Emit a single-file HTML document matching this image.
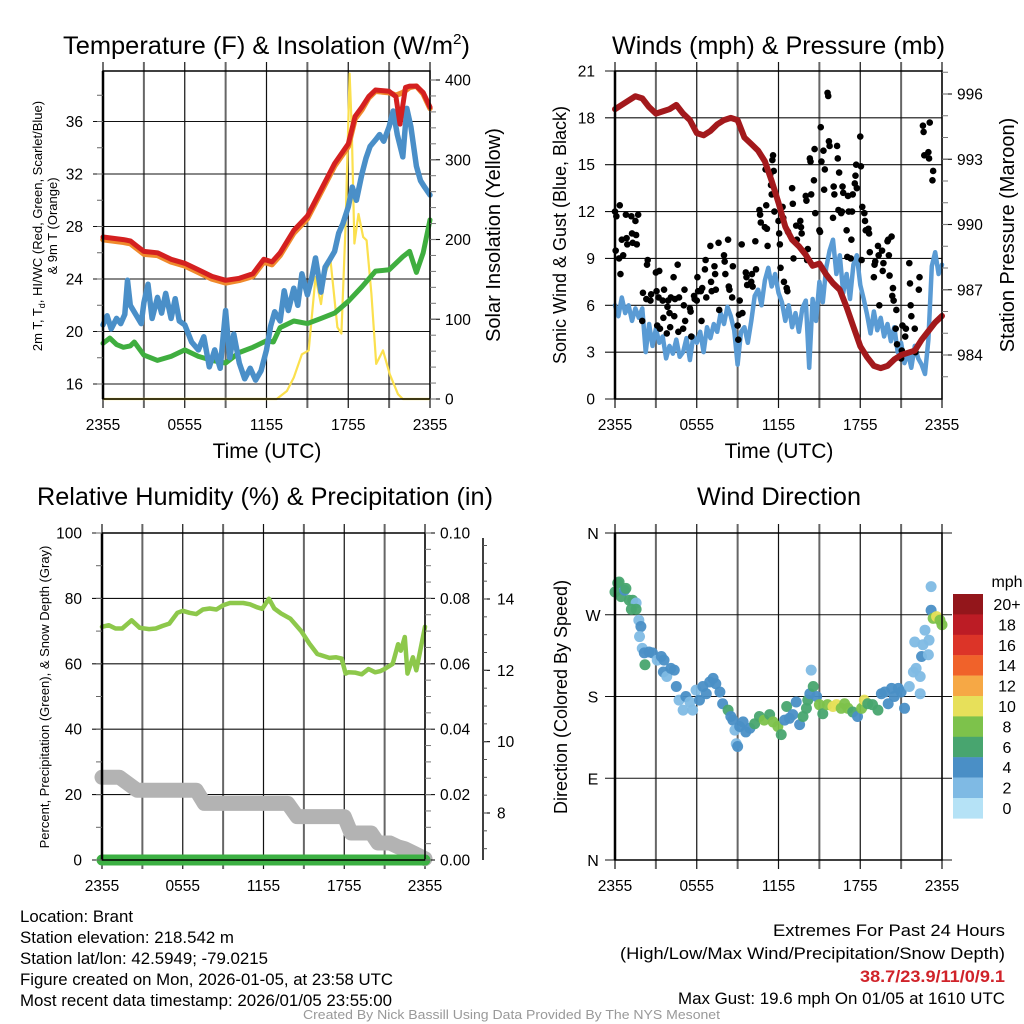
<!DOCTYPE html>
<html><head><meta charset="utf-8"><style>
html,body{margin:0;padding:0;background:#fff;}
svg{display:block;font-family:"Liberation Sans",sans-serif;}
</style></head><body>
<svg id="fig" width="1024" height="1024" viewBox="0 0 1024 1024" xmlns="http://www.w3.org/2000/svg">
<rect x="0" y="0" width="1024" height="1024" fill="#fff"/>
<g id="grids"></g>
<g id="series"></g>
<g id="axes"></g>

<text x="63" y="54" font-size="25" textLength="407" lengthAdjust="spacingAndGlyphs">Temperature (F) &amp; Insolation (W/m<tspan font-size="15" dy="-10">2</tspan><tspan dy="10">)</tspan></text>
<text x="612" y="54" font-size="25" textLength="333" lengthAdjust="spacingAndGlyphs">Winds (mph) &amp; Pressure (mb)</text>
<text x="37" y="505" font-size="25" textLength="456" lengthAdjust="spacingAndGlyphs">Relative Humidity (%) &amp; Precipitation (in)</text>
<text x="697" y="505" font-size="25" textLength="164" lengthAdjust="spacingAndGlyphs">Wind Direction</text>

<text x="267" y="458" font-size="21" text-anchor="middle">Time (UTC)</text>
<text x="779" y="458" font-size="21" text-anchor="middle">Time (UTC)</text>

<text transform="translate(42,226) rotate(-90)" font-size="13" text-anchor="middle">2m T, T<tspan font-size="9" dy="3">d</tspan><tspan dy="-3">, HI/WC (Red, Green, Scarlet/Blue)</tspan></text>
<text transform="translate(57,226) rotate(-90)" font-size="13" text-anchor="middle">&amp; 9m T (Orange)</text>
<text transform="translate(500,235) rotate(-90)" font-size="20" text-anchor="middle">Solar Insolation (Yellow)</text>
<text transform="translate(566,235) rotate(-90)" font-size="18" text-anchor="middle">Sonic Wind &amp; Gust (Blue, Black)</text>
<text transform="translate(1014,235) rotate(-90)" font-size="20" text-anchor="middle">Station Pressure (Maroon)</text>
<text transform="translate(49,697) rotate(-90)" font-size="13" text-anchor="middle">Percent, Precipitation (Green), &amp; Snow Depth (Gray)</text>
<text transform="translate(567,697) rotate(-90)" font-size="18" text-anchor="middle">Direction (Colored By Speed)</text>

<text x="1007" y="587" font-size="16" text-anchor="middle">mph</text>
<g id="legend"></g>

<g font-size="16.5">
<text x="20" y="922" textLength="113" lengthAdjust="spacingAndGlyphs">Location: Brant</text>
<text x="20" y="943" textLength="214" lengthAdjust="spacingAndGlyphs">Station elevation: 218.542 m</text>
<text x="20" y="964" textLength="248" lengthAdjust="spacingAndGlyphs">Station lat/lon: 42.5949; -79.0215</text>
<text x="20" y="985" textLength="373" lengthAdjust="spacingAndGlyphs">Figure created on Mon, 2026-01-05, at 23:58 UTC</text>
<text x="20" y="1006" textLength="372" lengthAdjust="spacingAndGlyphs">Most recent data timestamp: 2026/01/05 23:55:00</text>
</g>
<g font-size="16.5">
<text x="773" y="936" textLength="232" lengthAdjust="spacingAndGlyphs">Extremes For Past 24 Hours</text>
<text x="620" y="959" textLength="385" lengthAdjust="spacingAndGlyphs">(High/Low/Max Wind/Precipitation/Snow Depth)</text>
<text x="860" y="982" textLength="145" lengthAdjust="spacingAndGlyphs" fill="#d0232a" font-weight="bold">38.7/23.9/11/0/9.1</text>
<text x="678" y="1004" textLength="327" lengthAdjust="spacingAndGlyphs">Max Gust: 19.6 mph On 01/05 at 1610 UTC</text>
</g>
<text x="303" y="1019" font-size="13" textLength="417" lengthAdjust="spacingAndGlyphs" fill="#999">Created By Nick Bassill Using Data Provided By The NYS Mesonet</text>
</svg>
<script>
// ---------- DATA ----------
const xTickLabels = ["2355","0555","1155","1755","2355"];
const tempTicks = [16,20,24,28,32,36];
const insolTicks = [0,100,200,300,400];
const windTicks = [0,3,6,9,12,15,18,21];
const presTicks = [984,987,990,993,996];
const rhTicks = [0,20,40,60,80,100];
const precipTicks = ["0.00","0.02","0.04","0.06","0.08","0.10"];
const snowTicks = [8,10,12,14];
const dirLabels = ["N","E","S","W","N"];

const redT = [0,1.5,2,2.5,3,4,5,6,7,8,9,10,11,11.8,12.4,13,14,15,16,17,18,18.5,19,19.5,20,21,21.5,21.8,22.2,22.5,23,23.5,24];
const redV = [27.2,27.0,26.9,26.5,26.1,26.0,25.5,25.2,24.7,24.2,23.9,24.05,24.4,25.5,25.3,26.0,27.7,28.8,30.8,32.8,34.3,36.4,37.1,37.9,38.4,38.3,37.9,35.8,38.6,38.7,38.7,38.2,37.1];
const orangeT = [0,1.5,2,2.5,3,4,5,6,7,8,9,10,11,11.8,12.4,13,14,15,16,17,18,18.5,19,19.5,20,21,21.5,22,22.5,23,23.5,24];
const orangeV = [27.0,26.8,26.7,26.3,25.9,25.8,25.3,25.0,24.5,24.0,23.7,23.9,24.2,25.3,25.1,25.8,27.5,28.6,30.6,32.6,34.1,36.2,36.9,37.8,38.3,38.2,38.0,38.2,38.6,38.7,38.1,37.0];
const blueT = [0,0.3,0.6,1,1.3,1.6,1.8,2,2.4,2.8,3,3.3,3.6,4,4.3,4.6,5,5.3,5.6,6,6.5,7,7.4,7.8,8.2,8.6,9,9.3,9.6,10,10.4,10.8,11.2,11.6,12,12.3,12.6,13,13.3,13.6,14,14.3,14.6,15,15.3,15.6,16,16.3,16.6,17,17.3,17.6,18,18.3,18.6,19,19.3,19.6,20,20.3,20.6,21,21.3,21.6,22,22.3,22.6,23,23.3,23.6,24];
const blueV = [20.5,21.2,20.2,21.0,20.6,21.3,23.9,22.0,21.3,20.6,22.2,23.6,21.0,22.6,21.4,22.9,21.0,22.5,20.8,20.5,19.2,18.6,19.6,17.3,18.6,17.2,21.6,18.0,19.8,17.6,16.4,17.2,16.3,17.0,18.6,20.4,21.5,20.8,23.1,21.6,23.3,22.0,24.4,22.8,24.0,25.6,23.0,24.9,25.4,26.1,27.5,28.2,29.5,31.0,30.0,32.0,33.2,34.1,34.6,35.0,34.5,35.6,36.8,35.0,33.3,37.0,35.6,32.6,31.5,31.0,30.4];
const greenT = [0,0.5,1,1.5,2,2.3,3,4,5,6,7,8,9,10,11,12,12.5,13,14,15,16,17,18,19,20,21,22,22.5,23,23.5,24];
const greenV = [19.1,19.5,19.0,18.8,18.9,19.2,18.2,17.8,18.1,18.6,18.1,17.8,17.6,18.4,18.8,19.3,19.2,20.3,20.8,20.6,21.0,21.4,22.3,23.4,24.6,24.7,25.7,26.1,24.5,26.0,28.5];
const insolT = [0,12.75,13.5,14,14.6,15.1,15.6,16,16.3,16.7,17.2,17.5,17.8,18.1,18.25,18.45,18.75,19.1,19.35,19.7,20.05,20.55,21.05,21.65,22,24];
const insolV = [0,0,10,27,56,61,153,119,157,174,90,82,215,408,341,195,232,203,199,132,44,61,31,6,0,0];

const presT = [0,0.5,1,1.5,2,2.5,3,3.5,4,4.5,5,5.5,6,6.5,7,7.5,8,8.5,9,9.5,10,10.5,11,11.5,12,12.5,13,13.5,14,14.5,15,15.5,16,16.5,17,17.5,18,18.5,19,19.5,20,20.5,21,21.5,22,22.5,23,23.5,24];
const presV = [995.3,995.5,995.7,995.9,995.8,995.4,995.1,995.2,995.3,995.5,995.1,994.8,994.2,994.1,994.3,994.6,994.8,994.9,994.8,994.0,993.7,993.4,992.9,992.0,991.0,989.9,989.3,989.0,988.6,988.1,988.2,987.7,987.3,987.0,986.2,985.3,984.4,983.9,983.5,983.4,983.5,983.8,984.0,984.1,984.2,984.7,985.1,985.5,985.8];
const windT = [0,0.25,0.5,0.75,1,1.25,1.5,1.75,2,2.25,2.5,2.75,3,3.25,3.5,3.75,4,4.25,4.5,4.75,5,5.25,5.5,5.75,6,6.25,6.5,6.75,7,7.25,7.5,7.75,8,8.25,8.5,8.75,9,9.25,9.5,9.75,10,10.25,10.5,10.75,11,11.25,11.5,11.75,12,12.25,12.5,12.75,13,13.25,13.5,13.75,14,14.25,14.5,14.75,15,15.25,15.5,15.75,16,16.25,16.5,16.75,17,17.25,17.5,17.75,18,18.25,18.5,18.75,19,19.25,19.5,19.75,20,20.25,20.5,20.75,21,21.25,21.5,21.75,22,22.25,22.5,22.75,23,23.25,23.5,23.75,24];
const windV = [6.0,5.3,6.5,5.5,6.0,5.0,5.8,5.2,5.8,3.0,4.8,3.4,4.5,3.6,4.0,2.6,3.4,2.9,3.8,2.7,3.0,3.9,2.5,4.0,3.6,4.3,3.0,4.6,3.9,4.8,4.3,5.5,4.8,5.9,5.3,4.4,2.2,4.3,4.6,3.6,5.0,6.6,7.0,6.0,7.6,8.4,7.2,8.0,6.8,6.2,5.0,6.0,4.6,5.5,4.3,5.8,6.3,2.0,6.4,5.0,7.5,6.2,8.4,9.5,10.2,8.0,9.2,6.8,8.0,6.4,8.6,9.2,7.3,6.4,5.4,4.2,5.6,4.4,5.2,4.0,4.8,3.7,4.6,3.0,3.6,2.3,3.0,2.0,3.4,2.6,2.2,1.6,3.8,8.5,9.4,8.0,8.6];
const gustT = [0,0.05,0.1,0.3,0.35,0.4,0.5,0.6,0.8,0.85,0.9,1.2,1.25,1.3,1.5,1.55,1.6,1.7,2,2.05,2.3,2.35,2.4,2.6,2.65,3,3.05,3.1,3.2,3.25,3.3,3.5,3.55,3.6,3.8,3.85,3.9,4,4.05,4.1,4.3,4.35,4.4,4.6,4.65,4.7,5,5.05,5.1,5.15,5.5,5.55,5.6,5.8,5.85,6,6.05,6.1,6.3,6.35,6.4,6.6,6.65,6.7,7,7.05,7.1,7.3,7.35,7.4,7.6,7.65,8,8.05,8.1,8.3,8.35,8.4,8.6,8.65,9,9.05,9.1,9.15,9.3,9.35,9.6,9.65,9.7,10,10.05,10.1,10.3,10.35,10.6,10.65,10.7,11,11.05,11.1,11.15,11.2,11.4,11.45,11.5,11.55,11.6,11.65,11.7,12,12.05,12.1,12.15,12.3,12.35,12.4,12.6,12.65,12.7,13,13.05,13.1,13.3,13.35,13.6,13.65,13.7,14,14.05,14.1,14.15,14.3,14.35,14.4,14.6,14.65,14.7,15,15.05,15.1,15.15,15.3,15.35,15.4,15.6,15.65,15.7,15.75,16,16.05,16.1,16.3,16.35,16.4,16.45,16.6,16.65,16.7,16.75,17,17.05,17.1,17.15,17.3,17.35,17.4,17.45,17.6,17.65,17.7,17.75,18,18.05,18.1,18.15,18.3,18.35,18.4,18.6,18.65,18.7,19,19.05,19.1,19.3,19.35,19.4,19.6,19.65,19.7,20,20.05,20.1,20.15,20.3,20.35,20.4,20.45,20.6,20.65,20.7,21,21.05,21.1,21.3,21.35,21.6,21.65,21.7,21.75,22,22.05,22.3,22.35,22.6,22.65,22.7,23,23.05,23.1,23.3,23.35];
const gustV = [12,9.5,11.7,9.0,12.4,8.0,10.2,9.2,11.8,10.3,9.9,11.7,10.6,10.0,11.4,10.5,9.9,11.8,5.0,6.8,6.4,8.6,8.9,6.3,6.7,8.1,6.9,4.7,6.5,8.2,4.5,6.3,5.2,7.0,4.2,5.9,6.3,5.5,4.6,6.5,7.8,5.3,6.4,8.6,4.3,6.5,4.5,6.0,7.0,5.0,5.8,5.6,4.0,6.6,6.4,6.3,7.8,6.9,6.9,5.0,7.1,8.3,8.9,6.5,9.8,7.5,6.9,8.5,8.0,7.0,10.0,5.7,9.2,8.8,8.0,10.2,7.2,7.0,6.5,8.5,4.7,3.8,5.4,6.3,9.9,5.5,8.1,7.8,7.3,7.5,8.0,7.2,10.1,8.3,12.1,11.8,11.3,11.0,14.7,12.4,10.9,9.8,14.4,13.7,13.1,15.3,15.6,14.6,12.0,11.4,10.6,9.9,8.4,12.3,11.6,7.5,7.1,6.9,10.7,13.5,12.5,9.0,11.1,10.2,11.4,11.0,10.6,13.0,12.7,8.9,9.6,15.4,15.2,13.1,14.0,16.0,11.9,10.8,10.7,17.4,15.2,15.9,13.4,14.7,19.6,19.4,16.5,16.2,11.6,13.6,13.1,16.2,15.4,12.1,14.5,11.9,12.0,13.6,13.2,10.8,9.1,13.0,12.0,9.0,10.2,12.0,13.1,13.8,14.3,15.0,13.5,16.8,14.9,8.9,12.3,11.9,11.4,10.8,10.9,10.6,9.4,7.8,8.6,8.8,9.8,9.2,6.0,9.5,8.2,8.7,10.1,10.2,9.2,7.9,10.4,6.6,7.1,6.3,4.5,5.7,3.5,2.6,3.1,4.7,4.0,4.5,8.7,7.4,6.0,5.3,4.5,3.0,7.0,7.8,17.5,17.1,15.6,15.8,15.4,17.7,14.0,14.6];

const rhT = [0,0.5,1,1.5,2.2,2.8,3.5,4,4.5,5,5.6,6,6.5,7,7.5,8,8.5,9,9.5,10,10.5,11,11.5,11.9,12.4,12.8,13.3,14,14.8,15.4,16,16.9,17.4,17.8,18.1,18.3,18.8,19.3,19.8,20.3,20.7,21,21.6,22,22.2,22.5,22.7,23.1,23.35,24];
const rhV = [71.3,71.8,70.8,70.8,73.3,71.0,70.6,70.8,71.6,72.3,75.6,76.2,75.6,75.2,76.6,76.9,76.6,77.9,78.6,78.6,78.6,78.2,77.3,76.8,79.9,76.9,75.4,73.8,70.0,66.2,63.0,61.8,62.0,61.6,57.0,57.4,57.3,56.8,58.4,57.4,57.8,58.4,60.0,66.0,64.0,68.2,57.0,62.0,58.0,71.3];
const snowT = [0,1.3,2.6,7.0,7.6,13.8,14.5,18.0,18.5,20.0,20.5,21.4,22.0,22.5,23.3,24];
const snowV = [9.0,9.0,8.64,8.64,8.27,8.27,7.9,7.9,7.44,7.44,7.16,7.16,7.05,7.0,6.85,6.72];
const precipT = [0,24];
const precipV = [0,0];

const dirT = [0,0.2,0.3,0.45,0.7,0.8,1.05,1.3,1.55,1.2,1.55,1.75,1.9,1.8,2.0,2.15,2.2,2.5,2.75,3.1,3.4,3.6,3.55,3.8,4.1,4.35,4.5,4.7,5,5.2,5.5,5.7,5.95,6.2,6.45,6.7,6.95,7.2,7.4,7.7,7.9,8.3,8.5,8.65,8.8,8.9,9,9.15,9.4,9.6,9.9,10.25,10.6,10.95,11.35,11.6,11.95,12.2,12.45,12.6,12.8,13.05,13.3,13.55,13.8,14.05,14.15,14.3,14.4,14.55,14.8,15,15.25,15.6,16,16.25,16.6,16.85,17.1,17.45,17.8,18.1,18.3,18.55,18.9,19.3,19.55,19.8,20.05,20.3,20.5,20.8,21,21.25,21.6,21.9,22.1,22.4,22.5,22.4,22.0,22.6,22.75,23.0,23.05,23.2,23.2,23.35,23.6,23.85,24];
const dirV = [295,305,306,290,297,299,286,286,283,276,276,264,257,246,233,228,215,229,228,220,224,220,207,202,211,209,191,176,165,180,174,165,187,176,191,183,196,200,194,185,172,165,158,154,143,128,125,147,152,141,145,150,158,154,160,152,147,138,154,169,156,160,174,149,158,167,176,183,209,191,180,171,161,171,169,171,167,172,167,163,158,167,176,172,171,165,183,185,172,189,180,189,185,167,191,207,211,183,224,202,240,237,253,226,242,301,275,266,268,264,259];
const dirS = [6,6,6,6,4,6,6,6,2,6,6,2,4,2,2,4,6,4,4,2,4,4,4,2,4,4,4,2,2,4,2,2,2,4,4,4,4,4,4,4,4,6,4,4,2,2,4,4,4,4,4,6,6,8,6,8,8,6,4,6,4,4,4,4,6,6,6,4,2,6,4,8,6,8,10,10,8,8,8,6,4,8,10,6,6,6,4,4,4,4,4,4,4,4,2,2,2,2,4,2,2,2,2,2,2,2,4,8,10,8,8];

const legendLabels = ["20+","18","16","14","12","10","8","6","4","2","0"];
const legendColors = ["#93161b","#bc1c25","#dc3428","#f0622a","#f6a845","#e7e05a","#7dc24b","#48a56f","#4a8fc6","#7fbae4","#b5e2f6"];

// ---------- SCALES ----------
const NS = "http://www.w3.org/2000/svg";
const gGrid = document.getElementById('grids');
const gSer = document.getElementById('series');
const gAx = document.getElementById('axes');
function lin(d0,d1,r0,r1){ return v => r0 + (v-d0)*(r1-r0)/(d1-d0); }
function mk(tag, attrs, parent){ const e=document.createElementNS(NS,tag); for(const k in attrs) e.setAttribute(k,attrs[k]); parent.appendChild(e); return e; }

const P = {
  tl:{x0:103,x1:430,y0:71,y1:399},
  tr:{x0:615,x1:942,y0:71,y1:399},
  bl:{x0:102,x1:425,y0:533,y1:860},
  br:{x0:615,x1:942,y0:533,y1:860}
};
const xTL = lin(0,24,P.tl.x0,P.tl.x1), xTR = lin(0,24,P.tr.x0,P.tr.x1);
const xBL = lin(0,24,P.bl.x0,P.bl.x1), xBR = lin(0,24,P.br.x0,P.br.x1);
const yTemp = lin(16,36,384,121.5);
const yIns = lin(0,400,399,80);
const yWind = lin(0,21,399,71);
const yPres = lin(984,996,355,94);
const yRH = lin(0,100,860,533);
const ySnow = lin(8,14,813,599);
const yDir = lin(0,360,860,533);

// ---------- FRAMES, GRIDS, TICKS ----------
function frame(p, name, xs){
  for(let h=0;h<=24;h+=3){
    const x = xs(h);
    const l = mk('line',{x1:x,x2:x,y1:p.y0-9,y2:p.y1+9,stroke:(h%6===3)?'#666':'#111','stroke-width':(h%6===3)?2:1.2},gGrid);
    
    
  }
  const r = mk('rect',{x:p.x0,y:p.y0,width:p.x1-p.x0,height:p.y1-p.y0,fill:'none',stroke:'#000','stroke-width':1.5},gAx);
  
  
  const lx = mk('line',{x1:p.x0,x2:p.x0,y1:p.y0,y2:p.y1,stroke:'#000','stroke-width':2.5},gAx);
  
  
  xTickLabels.forEach((lab,i)=>{
    const t = mk('text',{x:xs(i*6),y:p.y1+31,'font-size':15.5,'text-anchor':'middle'},gAx);
    t.textContent = lab;
    
    
  });
}
function hgrid(p, name, vals, ys, labels, side, minorStep, minorFrom, minorTo){
  vals.forEach((v,i)=>{
    const y = ys(v);
    const l = mk('line',{x1:p.x0-10,x2:p.x1+(side==='both'?10:0),y1:y,y2:y,stroke:'#111','stroke-width':1.1},gGrid);
    
    
    const t = mk('text',{x:p.x0-20,y:y+5.5,'font-size':15.5,'text-anchor':'end'},gAx);
    t.textContent = labels ? labels[i] : v;
    
    
  });
  if(minorStep){
    for(let v=minorFrom; v<=minorTo+1e-9; v+=minorStep){
      const y = ys(v);
      const m = mk('line',{x1:p.x0-6,x2:p.x0,y1:y,y2:y,stroke:'#666','stroke-width':1},gAx);
      
      
    }
  }
}
function rightAxis(p, name, vals, ys, labels, minorStep, minorFrom, minorTo, xoff){
  const ax = p.x1 + (xoff||0);
  vals.forEach((v,i)=>{
    const y = ys(v);
    const l = mk('line',{x1:ax,x2:ax+10,y1:y,y2:y,stroke:'#111','stroke-width':1.1},gAx);
    
    
    const t = mk('text',{x:ax+15,y:y+5.5,'font-size':15.5},gAx);
    t.textContent = labels ? labels[i] : v;
    
    
  });
  if(minorStep){
    for(let v=minorFrom; v<=minorTo+1e-9; v+=minorStep){
      const y = ys(v);
      const m = mk('line',{x1:ax,x2:ax+6,y1:y,y2:y,stroke:'#777','stroke-width':1},gAx);
      
      
    }
  }
}

frame(P.tl,'temperature',xTL);
frame(P.tr,'winds',xTR);
frame(P.bl,'humidity',xBL);
frame(P.br,'direction',xBR);

hgrid(P.tl,'temperature',tempTicks,yTemp,null,'left',2,16,38);
rightAxis(P.tl,'insolation',insolTicks,yIns,null,20,0,400);
hgrid(P.tr,'winds',windTicks,yWind,null,'left',0);
rightAxis(P.tr,'pressure',presTicks,yPres,null,1,983,997);
hgrid(P.bl,'humidity',rhTicks,yRH,null,'left',10,0,100);
rightAxis(P.bl,'precip',rhTicks,yRH,precipTicks,5,0,100);
// third snow axis
(function(){
  const ax = 483;
  const l = mk('line',{x1:ax,x2:ax,y1:538,y2:860,stroke:'#000','stroke-width':1.5},gAx);
  
  
  snowTicks.forEach(v=>{
    const y = ySnow(v);
    const t1 = mk('line',{x1:ax,x2:ax+7,y1:y,y2:y,stroke:'#000','stroke-width':1.1},gAx);
    
    
    const t = mk('text',{x:ax+14,y:y+5.5,'font-size':15.5},gAx);
    t.textContent = v;
    
    
  });
  for(let v=7; v<=15.5; v+=0.5){
    const y = ySnow(v);
    if(y<538||y>860) continue;
    const m = mk('line',{x1:ax,x2:ax+4,y1:y,y2:y,stroke:'#555','stroke-width':1},gAx);
    
    
  }
})();
// direction grid
[0,90,180,270,360].forEach((v,i)=>{
  const y = yDir(v);
  const l = mk('line',{x1:P.br.x0-10,x2:P.br.x1+10,y1:y,y2:y,stroke:'#111','stroke-width':1.1},gGrid);
  
  
  const t = mk('text',{x:P.br.x0-22,y:y+6,'font-size':16,'text-anchor':'middle'},gAx);
  t.textContent = dirLabels[i];
  
  
});

// ---------- SERIES ----------
function line(ts, vs, xs, ys, color, w, name, cap){
  const d = ts.map((t,i)=>(i?'L':'M')+xs(t).toFixed(1)+','+ys(vs[i]).toFixed(1)).join('');
  const p = mk('path',{d:d,fill:'none',stroke:color,'stroke-width':w,'stroke-linejoin':'round','stroke-linecap':cap||'round'},gSer);
  
  
  return p;
}
line(insolT,insolV,xTL,yIns,'#fbe04e',2.2,'insolation-line','butt');
line(greenT,greenV,xTL,yTemp,'#3fae3f',5,'heat-index-wind-chill-line');
line(blueT,blueV,xTL,yTemp,'#4a8fc8',5.5,'dew-point-line');
line(orangeT,orangeV,xTL,yTemp,'#f08a2c',5.5,'temperature-9m-line');
line(redT,redV,xTL,yTemp,'#d42020',5,'temperature-2m-line');

line(windT,windV,xTR,yWind,'#5a9bd4',4.5,'sonic-wind-line');
gustT.forEach((t,i)=>{
  const c = mk('circle',{cx:xTR(t),cy:yWind(gustV[i]),r:3.3,fill:'#000'},gSer);
  
  
});
line(presT,presV,xTR,yPres,'#a3191c',6,'station-pressure-line');

line(snowT,snowV,xBL,ySnow,'#b3b3b3',15,'snow-depth-line');
line(rhT,rhV,xBL,yRH,'#8dc84b',4.5,'relative-humidity-line');
line(precipT,precipV,xBL,yRH,'#3cb043',11,'precipitation-line');

function speedColor(s){ const idx = Math.min(10, Math.floor(s/2)); return legendColors[10-idx]; }
dirT.forEach((t,i)=>{
  const c = mk('circle',{cx:xBR(t),cy:yDir(dirV[i]),r:5.5,fill:speedColor(dirS[i]),'fill-opacity':0.95},gSer);
  
  
});

// ---------- LEGEND ----------
const gLeg = document.getElementById('legend');
legendLabels.forEach((lab,i)=>{
  const y = 594 + i*20.4;
  const r = mk('rect',{x:953,y:y,width:30,height:20.6,fill:legendColors[i]},gLeg);
  
  
  const t = mk('text',{x:1007,y:y+16,'font-size':16,'text-anchor':'middle'},gLeg);
  t.textContent = lab;
  
  
});
</script>
</body></html>
